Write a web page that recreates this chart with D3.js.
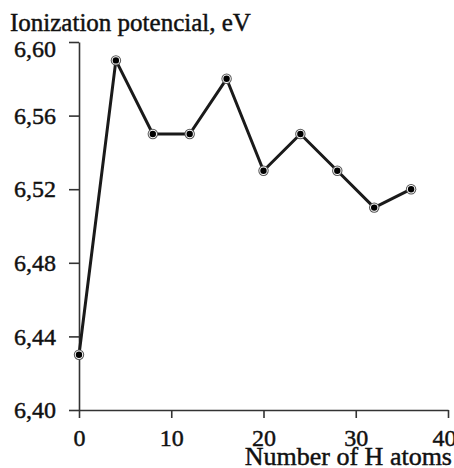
<!DOCTYPE html>
<html>
<head>
  <script src="https://d3js.org/d3.v7.min.js"></script>
  <style>
    body { margin: 0; background: #fff; }
    svg { display: block; font-family: "Liberation Serif", "Times New Roman", serif; }
    .axis path, .axis line { stroke: #333; stroke-width: 1.6px; }
    .axis text { font-size: 24px; fill: #111; stroke: #111; stroke-width: 0.45px; font-family: "Liberation Serif", serif; }
    .title { fill: #111; stroke: #111; stroke-width: 0.45px; }
  </style>
</head>
<body>
  <div id="chart"></div>
  <script>
    // data
    const hAtoms = [0, 4, 8, 12, 16, 20, 24, 28, 32, 36];
    const potential = [6.43, 6.59, 6.55, 6.55, 6.58, 6.53, 6.55, 6.53, 6.51, 6.52];
    const xTicks = [0, 10, 20, 30, 40];
    const yTicks = [6.40, 6.44, 6.48, 6.52, 6.56, 6.60];

    const width = 454, height = 468;
    const margin = { top: 42, right: 6, bottom: 58, left: 79 };

    const svg = d3.select("#chart").append("svg")
      .attr("width", width)
      .attr("height", height);

    const x = d3.scaleLinear().domain([0, 40]).range([margin.left, width - margin.right]);
    const y = d3.scaleLinear().domain([6.40, 6.60]).range([height - margin.bottom, margin.top]);

    const fmt = d => d.toFixed(2).replace(".", ",");

    const xAxis = svg.append("g")
      .attr("class", "axis")
      .attr("transform", `translate(0,${height - margin.bottom})`)
      .call(d3.axisBottom(x).tickValues(xTicks).tickSizeInner(8).tickSizeOuter(0).tickPadding(11));

    // last label is pushed in against the right edge
    xAxis.selectAll(".tick text")
      .filter(d => d === 40)
      .attr("text-anchor", "end")
      .attr("x", width + 2 - x(40));

    const yAxis = svg.append("g")
      .attr("class", "axis")
      .attr("transform", `translate(${margin.left},0)`)
      .call(d3.axisLeft(y).tickValues(yTicks).tickFormat(fmt).tickSizeInner(10).tickSizeOuter(0).tickPadding(13));

    // top label sits below its tick, clear of the title
    yAxis.selectAll(".tick text")
      .filter(d => d === 6.60)
      .attr("dy", "0.62em");

    // titles
    svg.append("text")
      .attr("class", "title")
      .attr("x", 10)
      .attr("y", 31)
      .style("font-size", "25px")
      .text("Ionization potencial, eV");

    svg.append("text")
      .attr("class", "title")
      .attr("x", 452)
      .attr("y", 465)
      .attr("text-anchor", "end")
      .style("font-size", "26px")
      .text("Number of H atoms");

    const pts = hAtoms.map((h, i) => ({ h: h, v: potential[i] }));

    const line = d3.line().x(d => x(d.h)).y(d => y(d.v));

    svg.append("path")
      .datum(pts)
      .attr("d", line)
      .attr("fill", "none")
      .attr("stroke", "#1a1a1a")
      .attr("stroke-width", 3)
      .attr("stroke-linejoin", "round");

    const marks = svg.selectAll(".mark").data(pts).enter().append("g")
      .attr("class", "mark")
      .attr("transform", d => `translate(${x(d.h)},${y(d.v)})`);

    marks.append("circle").attr("r", 5.2).attr("fill", "#555");
    marks.append("circle").attr("r", 4.2).attr("fill", "#fff");
    marks.append("circle").attr("r", 3.2).attr("fill", "#000");
  </script>
</body>
</html>
